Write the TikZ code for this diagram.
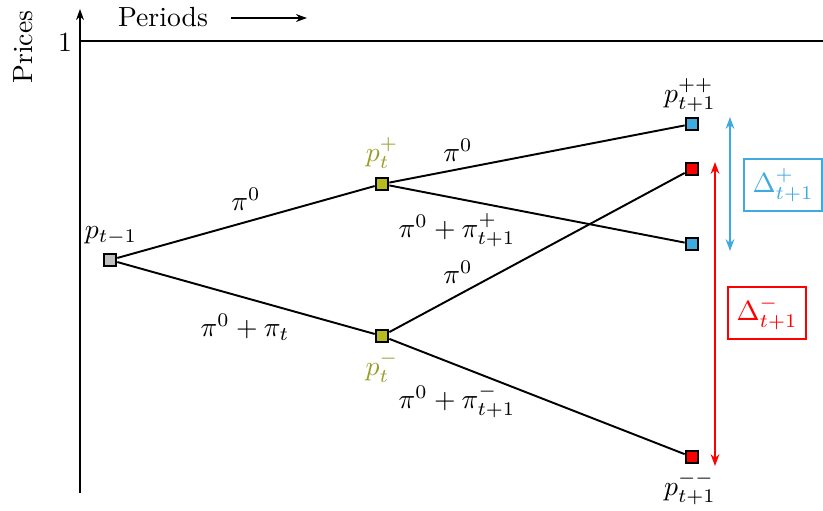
\documentclass[tikz,border=0pt]{standalone}
\usepackage{tikz}
\usetikzlibrary{arrows.meta,calc,positioning}
\definecolor{priceOlive}{HTML}{B8BA1E}
\definecolor{labelOlive}{HTML}{9A9C28}
\definecolor{priceBlue}{HTML}{3FAAE0}
\definecolor{priceRed}{HTML}{FF0000}
\tikzset{
  every node/.style={font=\normalsize},
  pnode/.style={rectangle, draw=black, line width=0.7pt, minimum size=4.6pt, inner sep=0pt},
  startnode/.style={pnode, fill=black!25},
  midnode/.style={pnode, fill=priceOlive},
  upnode/.style={pnode, fill=priceBlue},
  downnode/.style={pnode, fill=priceRed},
  branch/.style={line width=0.7pt, draw=black},
  axisline/.style={line width=0.65pt, draw=black},
  spread/.style={{Stealth[length=1.5mm,width=1.1mm]}-{Stealth[length=1.5mm,width=1.1mm]}, line width=0.6pt},
  spreadbox/.style={draw, line width=0.7pt, inner sep=2pt, minimum width=9.8mm, minimum height=6.7mm},
}
\begin{document}
\begin{tikzpicture}[x=0.0127cm,y=-0.0127cm]
  \useasboundingbox (0,0) rectangle (823,510);
  % axes
  \coordinate (orig) at (80,493);
  \coordinate (ytop) at (80,9);
  \draw[axisline, -{Stealth[length=1.4mm,width=1.0mm]}] (orig) -- (ytop);
  \coordinate (oneL) at (80,41);
  \coordinate (oneR) at (823,41);
  \draw[axisline] (oneL) -- (oneR);
  \node (one) at (65,42) {1};
  \node[rotate=90] (prices) at (23,47) {Prices};
  \node (periods) at (163,17) {Periods};
  \coordinate (perA) at (231,18);
  \coordinate (perB) at (307,18);
  \draw[axisline, -{Stealth[length=1.4mm,width=1.0mm]}] (perA) -- (perB);

  % price nodes
  \node[startnode] (p0) at (110,260) {};
  \node[midnode] (pu) at (382,184) {};
  \node[midnode] (pd) at (382,336) {};
  \node[upnode] (puu) at (692,124) {};
  \node[downnode] (pud) at (692,169) {};
  \node[upnode] (pdu) at (692,244) {};
  \node[downnode] (pdd) at (692,457) {};

  \node (lp0) at (111,236) {$p_{t-1}$};
  \node[text=labelOlive] (lpu) at (382,153) {$p_t^{+}$};
  \node[text=labelOlive] (lpd) at (382,367) {$p_t^{-}$};
  \node (lpuu) at (690,95) {$p_{t+1}^{++}$};
  \node (lpdd) at (690,488) {$p_{t+1}^{--}$};

  % branches
  \draw[branch] (p0) -- (pu);
  \draw[branch] (p0) -- (pd);
  \draw[branch] (pu) -- (puu);
  \draw[branch] (pu) -- (pdu);
  \draw[branch] (pd) -- (pud);
  \draw[branch] (pd) -- (pdd);

  \node (e1) at (246,199) {$\pi^0$};
  \node (e2) at (245,327) {$\pi^0+\pi_t$};
  \node (e3) at (458,150) {$\pi^0$};
  \node (e4) at (457,230) {$\pi^0+\pi^{+}_{t+1}$};
  \node (e5) at (458,272) {$\pi^0$};
  \node (e6) at (457,401) {$\pi^0+\pi^{-}_{t+1}$};

  % spreads
  \coordinate (bTop) at (730,117);
  \coordinate (bBot) at (730,251);
  \draw[spread, priceBlue] (bTop) -- (bBot);
  \coordinate (rTop) at (715,162);
  \coordinate (rBot) at (715,466);
  \draw[spread, priceRed] (rTop) -- (rBot);
  \node[spreadbox, draw=priceBlue, text=priceBlue] (dplus) at (783,185) {$\Delta^{+}_{t+1}$};
  \node[spreadbox, draw=priceRed, text=priceRed] (dminus) at (767,313) {$\Delta^{-}_{t+1}$};
\end{tikzpicture}
\end{document}
